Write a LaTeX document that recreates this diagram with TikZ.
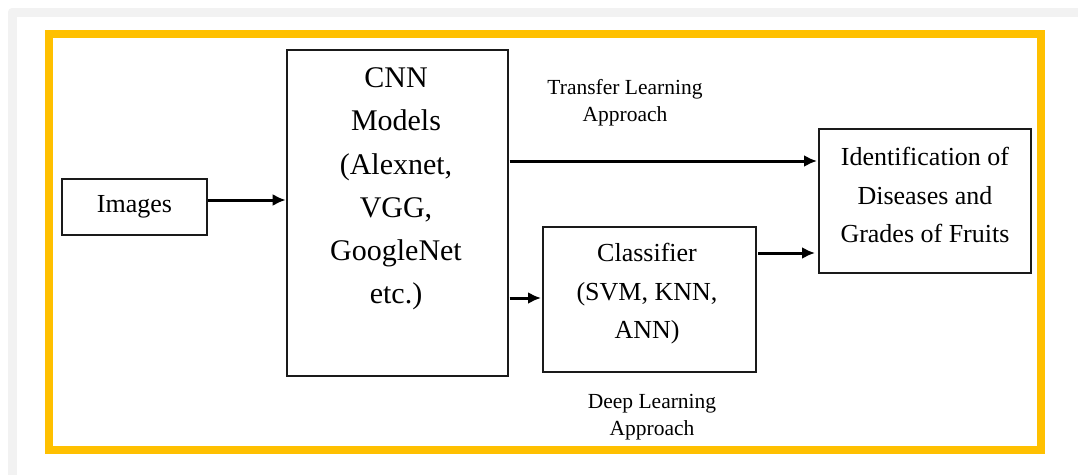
\documentclass[tikz,border=0pt]{standalone}
\usepackage{fontspec}
\setmainfont{Liberation Serif}
\usetikzlibrary{arrows.meta}
\definecolor{framegray}{HTML}{F2F2F2}
\definecolor{frameyellow}{HTML}{FFC000}
\definecolor{boxline}{HTML}{1A1A1A}
\begin{document}
\begin{tikzpicture}[x=1pt,y=1pt,
  box/.style={draw=boxline, line width=2pt, fill=white, inner sep=0pt, outer sep=0pt},
  arr/.style={line width=3pt, -{Latex[length=13pt,width=12pt]}},
  bigtxt/.style={font=\fontsize{30}{43.3}\selectfont, align=center, inner sep=0pt},
  midtxt/.style={font=\fontsize{26}{38.5}\selectfont, align=center, inner sep=0pt},
  smalltxt/.style={font=\fontsize{21.5}{27}\selectfont, align=center, inner sep=0pt}]
\useasboundingbox (0,0) rectangle (1078,-474);
\clip (0,0) rectangle (1078,-474);
% page backdrop with the light grey edge along top and left
\fill[framegray, rounded corners=4pt] (8,-8) rectangle (1100,-500);
\fill[white] (17,-17) rectangle (1100,-500);
% yellow outer frame
\draw[frameyellow, line width=8pt] (49,-34) rectangle (1041,-450);

% blocks
\node[box, minimum width=145pt, minimum height=56pt, midtxt] (images) at (134.5,-207) {Images};
\node[box, minimum width=221pt, minimum height=325.7pt] (cnn) at (397.2,-212.9) {};
\node[bigtxt] (cnntxt) at (396,-189) {CNN\\Models\\(Alexnet,\\VGG,\\GoogleNet\\etc.)};
\node[box, minimum width=213pt, minimum height=145pt] (clf) at (649.5,-299.5) {};
\node[midtxt] (clftxt) at (647,-294) {Classifier\\(SVM, KNN,\\ANN)};
\node[box, minimum width=212pt, minimum height=143.6pt] (ident) at (925,-200.8) {};
\node[midtxt] (identtxt) at (925,-195) {Identification of\\Diseases and\\Grades of Fruits};

% labels
\node[smalltxt] (tl) at (625,-103) {Transfer Learning\\Approach};
\node[smalltxt] (dl) at (652,-417) {Deep Learning\\Approach};

% connectors
\coordinate (ya) at (0,-200);
\coordinate (yt) at (0,-161);
\coordinate (yc) at (0,-253);
\coordinate (yk) at (0,-298);
\draw[arr] ([xshift=1pt]images.east |- ya) -- ([xshift=-1pt]cnn.west |- ya);
\draw[arr] ([xshift=2pt]cnn.east |- yt) -- ([xshift=-2pt]ident.west |- yt);
\draw[arr] ([xshift=2pt]cnn.east |- yk) -- ([xshift=-2pt]clf.west |- yk);
\draw[arr] ([xshift=2pt]clf.east |- yc) -- ([xshift=-4pt]ident.west |- yc);
\end{tikzpicture}
\end{document}
